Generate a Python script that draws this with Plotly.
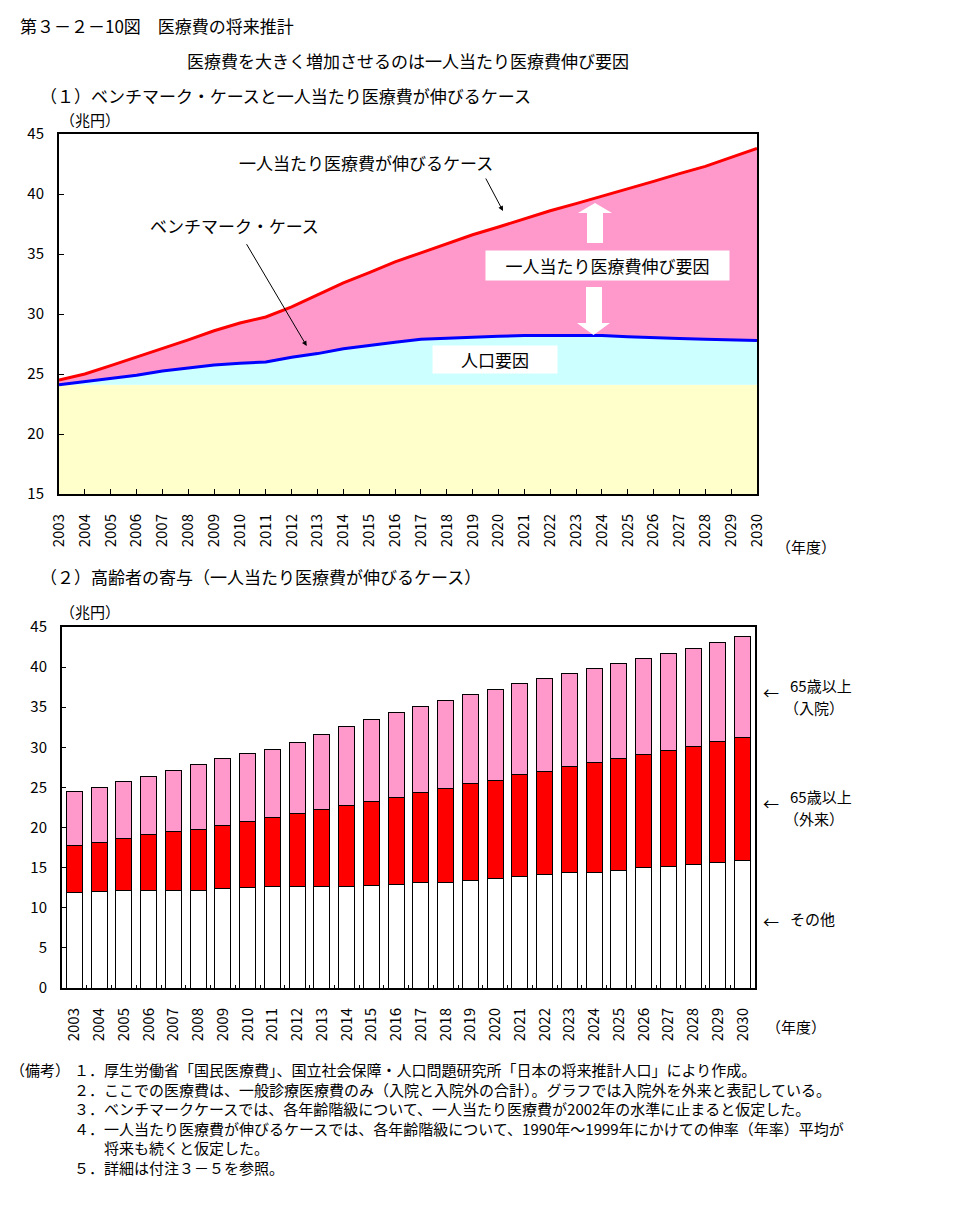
import plotly.graph_objects as go

# ---------------- data ----------------
years = list(range(2003, 2031))
year_labels = [str(y) for y in years]

# (2) stacked bars (兆円), growth case
other = [11.85, 11.97, 12.1, 12.1, 12.2, 12.2, 12.35, 12.5, 12.6, 12.7, 12.7, 12.7, 12.8, 12.95,
         13.1, 13.2, 13.45, 13.6, 13.9, 14.1, 14.4, 14.45, 14.7, 15.0, 15.2, 15.35, 15.6, 15.9]
outpatient65 = [5.95, 6.23, 6.5, 7.0, 7.3, 7.6, 7.95, 8.2, 8.6, 9.0, 9.5, 10.1, 10.5, 10.85,
                11.3, 11.7, 12.05, 12.3, 12.7, 12.95, 13.2, 13.6, 13.85, 14.05, 14.35, 14.75, 15.1, 15.3]
inpatient65 = [6.7, 6.8, 7.1, 7.3, 7.6, 8.05, 8.3, 8.55, 8.55, 8.9, 9.4, 9.8, 10.15, 10.55,
               10.7, 10.95, 11.1, 11.35, 11.35, 11.55, 11.6, 11.75, 11.9, 12.0, 12.15, 12.2, 12.35, 12.6]

# (1) lines (兆円)
growth_case = [round(a + b + c, 2) for a, b, c in zip(other, outpatient65, inpatient65)]
benchmark = [24.1, 24.35, 24.6, 24.9, 25.25, 25.5, 25.75, 25.9, 26.0, 26.4, 26.7, 27.1, 27.4, 27.65,
             27.9, 28.0, 28.1, 28.15, 28.2, 28.2, 28.2, 28.2, 28.1, 28.0, 27.95, 27.9, 27.85, 27.8]
base_2003 = 24.1
base_level = [base_2003 for _ in years]

notes_label = "（備考）"
notes = [
    "１．厚生労働省「国民医療費」、国立社会保障・人口問題研究所「日本の将来推計人口」により作成。",
    "２．ここでの医療費は、一般診療医療費のみ（入院と入院外の合計）。グラフでは入院外を外来と表記している。",
    "３．ベンチマークケースでは、各年齢階級について、一人当たり医療費が2002年の水準に止まると仮定した。",
    "４．一人当たり医療費が伸びるケースでは、各年齢階級について、1990年～1999年にかけての伸率（年率）平均が",
    "　　将来も続くと仮定した。",
    "５．詳細は付注３－５を参照。",
]

# ---------------- helpers ----------------
W, H = 974, 1224
FONT = "Noto Sans CJK JP"


def px(x):
    return x / W


def py(y):
    return 1 - y / H


fig = go.Figure()

# ---------------- top chart ----------------
fig.add_trace(go.Scatter(x=years, y=base_level, mode="lines", line=dict(width=0),
                         fill="tozeroy", fillcolor="#FFFFCC", xaxis="x", yaxis="y",
                         showlegend=False, hoverinfo="skip"))
fig.add_trace(go.Scatter(x=years, y=benchmark, mode="lines", line=dict(width=0),
                         fill="tonexty", fillcolor="#CCFFFF", xaxis="x", yaxis="y",
                         showlegend=False, hoverinfo="skip"))
fig.add_trace(go.Scatter(x=years, y=growth_case, mode="lines", line=dict(width=0),
                         fill="tonexty", fillcolor="#FF99CC", xaxis="x", yaxis="y",
                         showlegend=False, hoverinfo="skip"))
fig.add_trace(go.Scatter(x=years, y=benchmark, mode="lines", line=dict(color="#0000FF", width=3),
                         xaxis="x", yaxis="y", showlegend=False, name="ベンチマーク・ケース"))
fig.add_trace(go.Scatter(x=years, y=growth_case, mode="lines", line=dict(color="#FF0000", width=3),
                         xaxis="x", yaxis="y", showlegend=False, name="一人当たり医療費が伸びるケース"))

# ---------------- bottom chart ----------------
bar_line = dict(color="black", width=1)
fig.add_trace(go.Bar(x=year_labels, y=other, marker=dict(color="#FFFFFF", line=bar_line),
                     xaxis="x2", yaxis="y2", showlegend=False, name="その他"))
fig.add_trace(go.Bar(x=year_labels, y=outpatient65, marker=dict(color="#FF0000", line=bar_line),
                     xaxis="x2", yaxis="y2", showlegend=False, name="65歳以上（外来）"))
fig.add_trace(go.Bar(x=year_labels, y=inpatient65, marker=dict(color="#FF99CC", line=bar_line),
                     xaxis="x2", yaxis="y2", showlegend=False, name="65歳以上（入院）"))

axis_common = dict(showline=True, linecolor="black", linewidth=2, mirror=True, showgrid=False,
                   zeroline=False, ticks="inside", tickcolor="black", automargin=False,
                   tickfont=dict(family=FONT, size=15, color="black"))

fig.update_layout(
    width=W, height=H, autosize=False,
    margin=dict(l=0, r=0, t=0, b=0, pad=0, autoexpand=False),
    paper_bgcolor="white", plot_bgcolor="white",
    font=dict(family=FONT, color="black"),
    barmode="stack", bargap=0.35,
    xaxis=dict(domain=[px(59), px(757)], range=[2003, 2030], tickvals=years, ticktext=year_labels,
               tickangle=-90, ticklen=5, anchor="y", ticklabelstandoff=12, **axis_common),
    yaxis=dict(domain=[py(494), py(134)], range=[15, 45], dtick=5, ticklen=5, anchor="x",
               ticklabelstandoff=10, **axis_common),
    xaxis2=dict(domain=[px(62), px(755)], type="category", tickangle=-90, ticklen=3,
                tickson="boundaries", anchor="y2", ticklabelstandoff=12, **axis_common),
    yaxis2=dict(domain=[py(988), py(627)], range=[0, 45], dtick=5, ticklen=4, anchor="x2",
                ticklabelstandoff=10, **axis_common),
)


def text(s, x, y, size=17, xanchor="left", yanchor="middle", **kw):
    fig.add_annotation(text=s, x=px(x), y=py(y), xref="paper", yref="paper", showarrow=False,
                       xanchor=xanchor, yanchor=yanchor,
                       font=dict(family=FONT, size=size, color="black"), **kw)


# headings
text("第３－２－10図　医療費の将来推計", 18, 25, 17)
text("医療費を大きく増加させるのは一人当たり医療費伸び要因", 408, 60, 17, "center")
text("（１）ベンチマーク・ケースと一人当たり医療費が伸びるケース", 38, 96, 17)
text("（兆円）", 58, 120, 15)
text("（年度）", 806, 546, 15, "center")
text("（２）高齢者の寄与（一人当たり医療費が伸びるケース）", 38, 576, 17)
text("（兆円）", 58, 611, 15)
text("（年度）", 796, 1026, 15, "center")

# top chart labels
text("一人当たり医療費が伸びるケース", 366, 163, 17, "center")
text("ベンチマーク・ケース", 234, 225, 17, "center")
text("一人当たり医療費伸び要因", 607.5, 265.5, 17, "center", bgcolor="white", width=243, height=29,
     borderpad=0)
text("人口要因", 495, 359.5, 17, "center", bgcolor="white", width=124, height=27, borderpad=0)

# thin black arrows
for tip, tail in [((503, 211), (485, 177)), ((306.7, 346), (245.7, 242.7))]:
    fig.add_annotation(text="", x=px(tip[0]), y=py(tip[1]), xref="paper", yref="paper",
                       showarrow=True, ax=tail[0] - tip[0], ay=tail[1] - tip[1],
                       arrowhead=2, arrowsize=1, arrowwidth=1, arrowcolor="black")


# white block arrows
def path(points):
    return "M " + " L ".join(f"{px(x):.5f},{py(y):.5f}" for x, y in points) + " Z"


up_arrow = [(595, 203), (612, 213), (603, 213), (603, 243), (587, 243), (587, 213), (578, 213)]
down_arrow = [(586, 287), (602, 287), (602, 323), (610, 323), (593.5, 335), (577, 323), (586, 323)]
for pts in (up_arrow, down_arrow):
    fig.add_shape(type="path", path=path(pts), xref="paper", yref="paper",
                  fillcolor="white", line=dict(width=0), layer="above")

# bottom chart legend labels
for arrow_y, lines in [(692, ["65歳以上", "（入院）"]), (803, ["65歳以上", "（外来）"]), (921, ["その他"])]:
    text("←", 771, arrow_y, 16, "center")
    if len(lines) == 2:
        text(lines[0], 788, arrow_y - 6.5, 15)
        text(lines[1], 782, arrow_y + 15.5, 15)
    else:
        text(lines[0], 788, arrow_y - 3, 15)

# notes
text(notes_label, 8, 1057, 15, yanchor="top")
text("<br>".join(notes), 72, 1057, 15, yanchor="top", align="left")

fig.write_html("out.html", config={"displayModeBar": False},
               post_script="document.body.style.margin='0px';document.body.style.padding='0px';"
                           "document.documentElement.style.overflow='hidden';")
